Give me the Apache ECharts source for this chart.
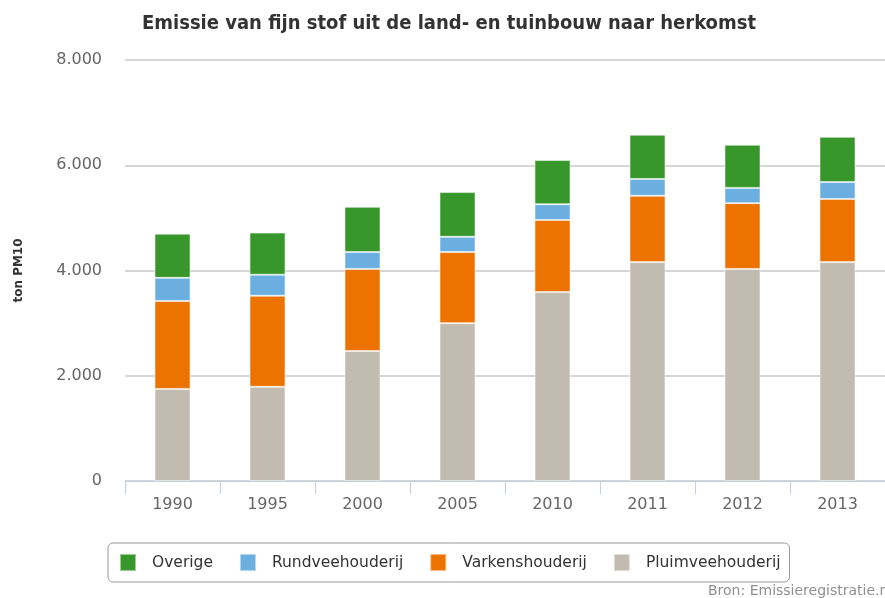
<!DOCTYPE html>
<html>
<head>
<meta charset="utf-8">
<script src="https://cdn.jsdelivr.net/npm/echarts@6/dist/echarts.min.js"></script>
<style>
  html, body { margin: 0; padding: 0; background: #fff; }
  #chart { width: 885px; height: 598px; }
</style>
</head>
<body>
<div id="chart"></div>
<script>
// jaren op de x-as
const jaren = ['1990', '1995', '2000', '2005', '2010', '2011', '2012', '2013'];

// emissie per herkomst (ton PM10)
const pluimvee = [1750, 1790, 2470, 3000, 3590, 4160, 4030, 4160];
const varkens = [1670, 1730, 1560, 1350, 1370, 1260, 1250, 1200];
const rundvee = [440, 400, 320, 290, 300, 320, 290, 320];
const overige = [840, 800, 860, 850, 840, 840, 820, 860];

const kleuren = {
  overige: '#38972a',
  rundvee: '#6aafe0',
  varkens: '#ec7300',
  pluimvee: '#c2bbb0'
};

const chart = echarts.init(document.getElementById('chart'));

// dezelfde opmaak voor elke serie
function maakSerie(naam, data, kleur) {
  return {
    name: naam,
    type: 'bar',
    stack: 'totaal',
    data: data,
    barWidth: 36,
    itemStyle: {
      color: kleur,
      borderColor: 'rgba(255,255,255,0.5)',
      borderWidth: 1
    },
    emphasis: { disabled: true }
  };
}

const option = {
  animation: false,
  textStyle: { fontFamily: 'DejaVu Sans' },
  title: {
    text: 'Emissie van fijn stof uit de land- en tuinbouw naar herkomst',
    left: 444,
    top: 9,
    textAlign: 'center',
    textStyle: {
      fontFamily: 'DejaVu Sans Condensed',
      fontWeight: 'bold',
      fontSize: 20,
      color: '#333'
    }
  },
  legend: {
    data: ['Overige', 'Rundveehouderij', 'Varkenshouderij', 'Pluimveehouderij'],
    left: 108,
    top: 543,
    padding: [10, 9, 10, 11],
    itemGap: 26,
    itemWidth: 16,
    itemHeight: 17,
    borderColor: '#999',
    borderWidth: 1,
    borderRadius: 5,
    icon: 'rect',
    textStyle: { fontSize: 15.5, color: '#333', padding: [0, 0, 0, 11] }
  },
  grid: {
    left: 125,
    right: -2,
    top: 60,
    bottom: 117
  },
  xAxis: {
    type: 'category',
    data: jaren,
    axisLine: { lineStyle: { color: '#c0d0e0', width: 1 } },
    axisTick: { show: true, length: 13, lineStyle: { color: '#c0d0e0' } },
    axisLabel: { fontSize: 16, color: '#666', margin: 16 }
  },
  yAxis: {
    type: 'value',
    min: 0,
    max: 8000,
    interval: 2000,
    name: 'ton PM10',
    nameLocation: 'middle',
    nameRotate: 90,
    nameGap: 100,
    nameTextStyle: { fontSize: 12, fontWeight: 'bold', color: '#333' },
    axisLine: { show: false },
    axisTick: { show: false },
    axisLabel: {
      fontSize: 16,
      color: '#666',
      margin: 23,
      padding: [6, 0, 0, 0],
      formatter: v => v.toLocaleString('nl-NL')
    },
    splitLine: { lineStyle: { color: '#c8c8c8', width: 1.5 } }
  },
  graphic: [{
    type: 'text',
    left: 708,
    top: 584,
    style: {
      text: 'Bron: Emissieregistratie.nl',
      fontSize: 14,
      fill: '#909090',
      fontFamily: 'DejaVu Sans'
    }
  }],
  series: [
    maakSerie('Pluimveehouderij', pluimvee, kleuren.pluimvee),
    maakSerie('Varkenshouderij', varkens, kleuren.varkens),
    maakSerie('Rundveehouderij', rundvee, kleuren.rundvee),
    maakSerie('Overige', overige, kleuren.overige)
  ]
};

chart.setOption(option);
</script>
</body>
</html>
